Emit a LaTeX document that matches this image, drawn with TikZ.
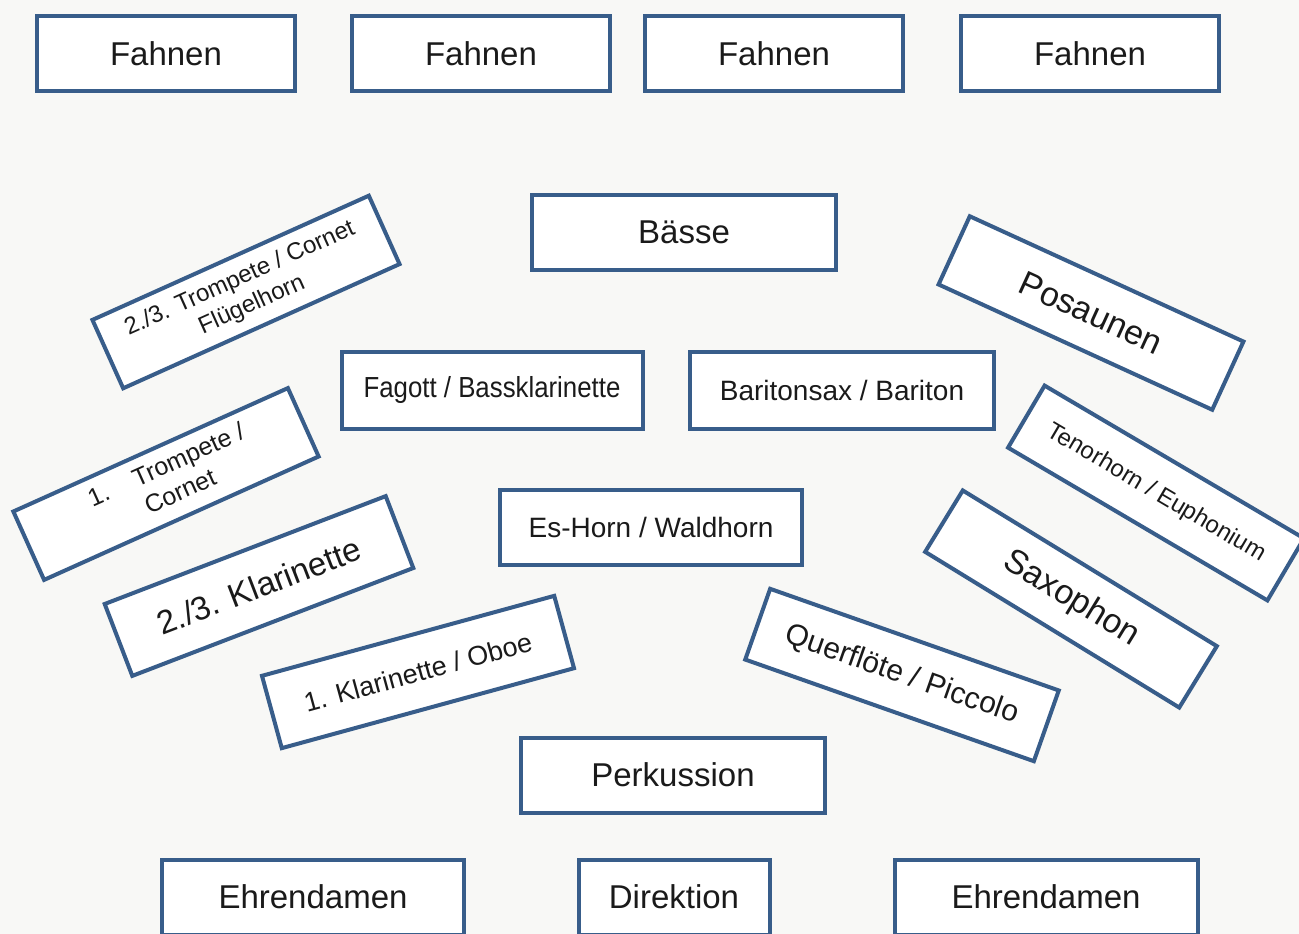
\documentclass[tikz,border=0pt]{standalone}
\usepackage{fontspec}
\setmainfont{Liberation Sans}
\newfontfamily\narrowfont[FakeStretch=0.89]{Liberation Sans}
\usepackage{tikz}
\definecolor{boxblue}{HTML}{385D8A}
\definecolor{paper}{HTML}{F8F8F6}
\definecolor{ink}{HTML}{1A1A1A}
\tikzset{
 block/.style = {
    rectangle, draw=boxblue, line width=4pt,
    fill=white, text=ink,
    inner sep=0pt, align=center,
    minimum width=258pt,
    minimum height=75pt,
    font=\fontsize{33}{38}\selectfont},
 fsize/.style 2 args = {
    font=\fontsize{#1}{#2}\selectfont},
}

\begin{document}
\begin{tikzpicture}[x=1pt, y=-1pt]
    \useasboundingbox (0,0) rectangle (1299,934);
    \clip (0,0) rectangle (1299,934);
    \fill[paper] (0,0) rectangle (1299,934);

    % Place nodes
    \node [block]                                      (fahneA) at (166,54)    {Fahnen};
    \node [block]                                      (fahneB) at (481,54)    {Fahnen};
    \node [block]                                      (fahneC) at (774,54)    {Fahnen};
    \node [block]                                      (fahneD) at (1090,54)   {Fahnen};

    \node [block, minimum width=304pt]                 (baesse) at (684,232)   {Bässe};
    \node [block, minimum width=301pt, minimum height=77pt, fsize={29}{34}]
                                                       (fagott) at (492,390)   {\narrowfont Fagott / Bassklarinette};
    \node [block, minimum width=304pt, minimum height=77pt, fsize={28}{33}]
                                                       (barsax) at (842,390)   {Baritonsax / Bariton};
    \node [block, minimum width=302pt, fsize={28}{33}] (eshorn) at (651,527)   {Es-Horn / Waldhorn};
    \node [block, minimum width=304pt]                 (perk)   at (673,775)   {Perkussion};

    \node [block, minimum width=302pt]                 (ehrenL) at (313,897)   {Ehrendamen};
    \node [block, minimum width=191pt]                 (direkt) at (674,897)   {Direktion};
    \node [block, minimum width=303pt]                 (ehrenR) at (1046,897)  {Ehrendamen};

    % Left side, turned
    \node [block, minimum width=303pt, rotate=24.2, fsize={24}{29}]
                                                       (trpB)   at (246,292)   {2./3. Trompete / Cornet\\Flügelhorn};
    \node [block, minimum width=301pt, rotate=24.2, fsize={25}{30}]
                                                       (trpA)   at (166,484)
        {\hspace{16pt}\begin{tabular}{@{}l@{\hspace{28pt}}l@{}}1. & Trompete /\\ & Cornet\end{tabular}};
    \node [block, minimum width=301pt, minimum height=77pt, rotate=21]
                                                       (klarB)  at (259,586)   {2./3. Klarinette};
    \node [block, minimum width=303pt, rotate=15.3, fsize={27}{32}]
                                                       (klarA)  at (418,672)   {1. Klarinette / Oboe};

    % Right side, turned
    \node [block, minimum width=301pt, rotate=-24.6, fsize={34}{40}]
                                                       (posaune) at (1091,313) {Posaunen};
    \node [block, minimum width=301pt, minimum height=72pt, rotate=-30.5, fsize={24}{29}]
                                                       (tenor)  at (1156,493)  {Tenorhorn / Euphonium};
    \node [block, minimum width=298pt, minimum height=72pt, rotate=-31.5, fsize={34}{40}]
                                                       (sax)    at (1071,599)  {Saxophon};
    \node [block, minimum width=306pt, rotate=-19.4, fsize={30}{35}]
                                                       (floete) at (902,675)   {Querflöte / Piccolo};
\end{tikzpicture}
\end{document}
